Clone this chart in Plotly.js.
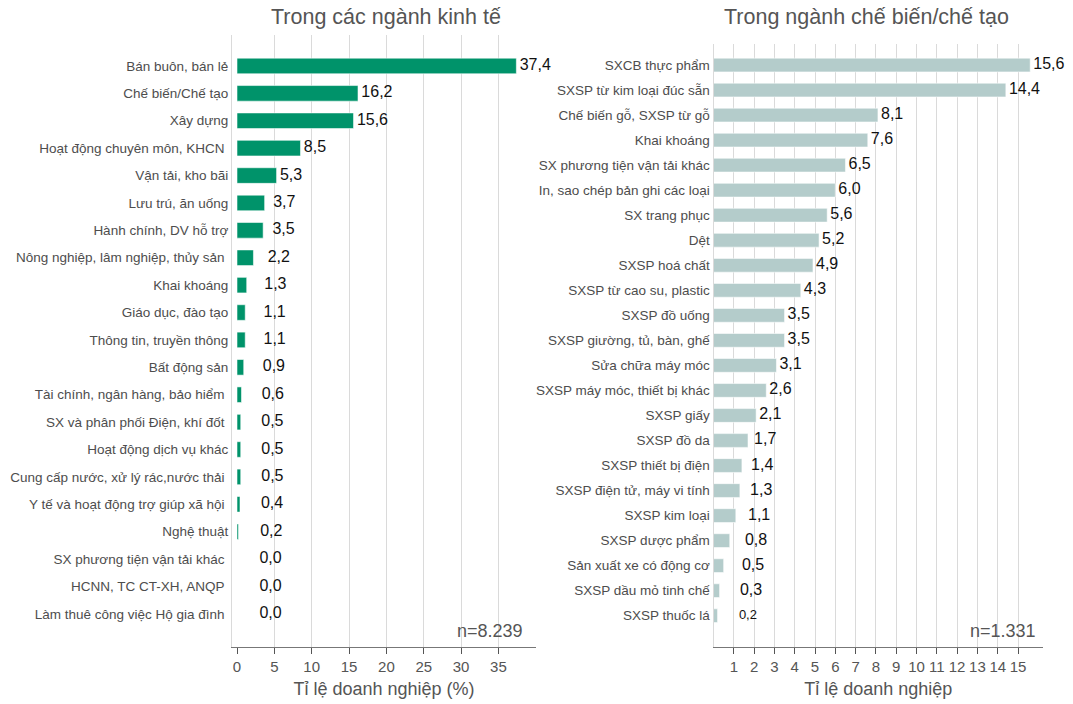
<!DOCTYPE html>
<html>
<head>
<meta charset="utf-8">
<script src="https://cdn.plot.ly/plotly-3.0.1.min.js"></script>
<style>
html,body{margin:0;padding:0;background:#fff;}
#chart{width:1073px;height:704px;}
</style>
</head>
<body>
<div id="chart"></div>
<script>
// ---------- DATA ----------
const econCategories = [
  "Bán buôn, bán lẻ",
  "Chế biến/Chế tạo",
  "Xây dựng",
  "Hoạt động chuyên môn, KHCN\u00a0",
  "Vận tải, kho bãi",
  "Lưu trú, ăn uống",
  "Hành chính, DV hỗ trợ",
  "Nông nghiệp, lâm nghiệp, thủy sản\u00a0",
  "Khai khoáng",
  "Giáo dục, đào tạo",
  "Thông tin, truyền thông",
  "Bất động sản",
  "Tài chính, ngân hàng, bảo hiểm\u00a0",
  "SX và phân phối Điện, khí đốt\u00a0",
  "Hoạt động dịch vụ khác",
  "Cung cấp nước, xử lý rác,nước thải\u00a0",
  "Y tế và hoạt động trợ giúp xã hội\u00a0",
  "Nghệ thuật",
  "SX phương tiện vận tải khác\u00a0",
  "HCNN, TC CT-XH, ANQP\u00a0",
  "Làm thuê công việc Hộ gia đình\u00a0"
];
const econValues = [37.4, 16.2, 15.6, 8.5, 5.3, 3.7, 3.5, 2.2, 1.3, 1.1, 1.1, 0.9, 0.6, 0.5, 0.5, 0.5, 0.4, 0.2, 0.0, 0.0, 0.0];

const mfgCategories = [
  "SXCB thực phẩm",
  "SXSP từ kim loại đúc sẵn",
  "Chế biến gỗ, SXSP từ gỗ",
  "Khai khoáng",
  "SX phương tiện vận tải khác",
  "In, sao chép bản ghi các loại",
  "SX trang phục",
  "Dệt",
  "SXSP hoá chất",
  "SXSP từ cao su, plastic",
  "SXSP đồ uống",
  "SXSP giường, tủ, bàn, ghế",
  "Sửa chữa máy móc",
  "SXSP máy móc, thiết bị khác",
  "SXSP giấy",
  "SXSP đồ da",
  "SXSP thiết bị điện",
  "SXSP điện tử, máy vi tính",
  "SXSP kim loại",
  "SXSP dược phẩm",
  "Sản xuất xe có động cơ",
  "SXSP dầu mỏ tinh chế",
  "SXSP thuốc lá"
];
const mfgValues = [15.6, 14.4, 8.1, 7.6, 6.5, 6.0, 5.6, 5.2, 4.9, 4.3, 3.5, 3.5, 3.1, 2.6, 2.1, 1.7, 1.4, 1.3, 1.1, 0.8, 0.5, 0.3, 0.2];

const econTicks = [0, 5, 10, 15, 20, 25, 30, 35];
const mfgTicks = [1, 2, 3, 4, 5, 6, 7, 8, 9, 10, 11, 12, 13, 14, 15];

const econTitle = "Trong các ngành kinh tế";
const mfgTitle = "Trong ngành chế biến/chế tạo";
const econAxisTitle = "Tỉ lệ doanh nghiệp (%)";
const mfgAxisTitle = "Tỉ lệ doanh nghiệp";
const econN = "n=8.239";
const mfgN = "n=1.331";

// ---------- STYLE ----------
const W = 1073, H = 704;
const FONT = '"Liberation Sans", Arial, Helvetica, sans-serif';
const GREY = '#555555';
const GRID = '#dadada';
const econColor = '#00936a';
const mfgColor = '#b4cccb';

function fmt(v) { return v.toFixed(1).replace('.', ','); }
const px = (a, b) => [a / W, b / W];
const py = (top, bottom) => [1 - bottom / H, 1 - top / H];

// label placement derived from the values (offset rule seen in the reference)
const econLabelX = econValues.map(v => Math.max(3 + 0.5 * v, v + 0.45));
const mfgLabelX = mfgValues.map(v => Math.max(1.15 + 0.5 * v, v + 0.15));
const mfgLabelSize = mfgValues.map((v, i) => i === mfgValues.length - 1 ? 13 : 16);

const traces = [
  {
    type: 'bar', orientation: 'h',
    x: econValues, y: econCategories,
    xaxis: 'x', yaxis: 'y',
    width: 0.57,
    marker: { color: econColor, line: { color: 'rgba(255,255,255,0.55)', width: 1 } },
    hoverinfo: 'skip'
  },
  {
    type: 'scatter', mode: 'text',
    x: econLabelX, y: econCategories,
    xaxis: 'x', yaxis: 'y',
    text: econValues.map(fmt),
    textposition: 'middle right',
    textfont: { family: FONT, size: 16, color: '#111111' },
    hoverinfo: 'skip', cliponaxis: false
  },
  {
    type: 'bar', orientation: 'h',
    x: mfgValues, y: mfgCategories,
    xaxis: 'x2', yaxis: 'y2',
    width: 0.55,
    marker: { color: mfgColor, line: { color: 'rgba(255,255,255,0.55)', width: 1 } },
    hoverinfo: 'skip'
  },
  {
    type: 'scatter', mode: 'text',
    x: mfgLabelX, y: mfgCategories,
    xaxis: 'x2', yaxis: 'y2',
    text: mfgValues.map(fmt),
    textposition: 'middle right',
    textfont: { family: FONT, size: mfgLabelSize, color: '#111111' },
    hoverinfo: 'skip', cliponaxis: false
  }
];

const xCommon = {
  showgrid: true, gridcolor: GRID, gridwidth: 1,
  ticks: 'outside', ticklen: 6, tickwidth: 1, tickcolor: '#555555',
  showline: true, linecolor: '#777777', linewidth: 1,
  tickfont: { family: FONT, size: 15, color: GREY },
  fixedrange: true
};
const yCommon = {
  type: 'category',
  showgrid: false, zeroline: false,
  showline: true, linecolor: GRID, linewidth: 1,
  ticks: '',
  tickfont: { family: FONT, size: 13.5, color: '#4d4d4d' },
  fixedrange: true
};

const layout = {
  width: W, height: H,
  margin: { l: 0, r: 0, t: 0, b: 0 },
  paper_bgcolor: '#ffffff', plot_bgcolor: '#ffffff',
  showlegend: false,
  font: { family: FONT, color: GREY },
  xaxis: Object.assign({}, xCommon, {
    domain: px(232, 536), anchor: 'y',
    range: [-0.67, 40.03],
    tickmode: 'array', tickvals: econTicks, ticktext: econTicks.map(String),
    zeroline: true, zerolinecolor: 'rgba(0,0,0,0)',
    title: { text: econAxisTitle, font: { family: FONT, size: 18, color: GREY }, standoff: 8 }
  }),
  yaxis: Object.assign({}, yCommon, {
    domain: py(35, 646.5), anchor: 'x',
    categoryorder: 'array', categoryarray: econCategories,
    range: [21.19, -1.13]
  }),
  xaxis2: Object.assign({}, xCommon, {
    domain: px(713.5, 1043), anchor: 'y2',
    range: [0, 16.23],
    tickmode: 'array', tickvals: mfgTicks, ticktext: mfgTicks.map(String),
    zeroline: false,
    title: { text: mfgAxisTitle, font: { family: FONT, size: 18, color: GREY }, standoff: 8 }
  }),
  yaxis2: Object.assign({}, yCommon, {
    domain: py(44, 646.5), anchor: 'x2',
    categoryorder: 'array', categoryarray: mfgCategories,
    range: [23.23, -0.84]
  }),
  annotations: [
    { text: econTitle, xref: 'paper', yref: 'paper', x: 386 / W, y: 1 - 17 / H,
      xanchor: 'center', yanchor: 'middle', showarrow: false,
      font: { family: FONT, size: 21.5, color: GREY } },
    { text: mfgTitle, xref: 'paper', yref: 'paper', x: 866 / W, y: 1 - 17 / H,
      xanchor: 'center', yanchor: 'middle', showarrow: false,
      font: { family: FONT, size: 21.5, color: GREY } },
    { text: econN, xref: 'x', yref: 'paper', x: 38.55, y: 1 - 631 / H,
      xanchor: 'right', yanchor: 'middle', showarrow: false,
      font: { family: FONT, size: 18, color: GREY } },
    { text: mfgN, xref: 'x2', yref: 'paper', x: 15.96, y: 1 - 631 / H,
      xanchor: 'right', yanchor: 'middle', showarrow: false,
      font: { family: FONT, size: 18, color: GREY } }
  ]
};

Plotly.newPlot('chart', traces, layout, { displayModeBar: false, staticPlot: true });
</script>
</body>
</html>
